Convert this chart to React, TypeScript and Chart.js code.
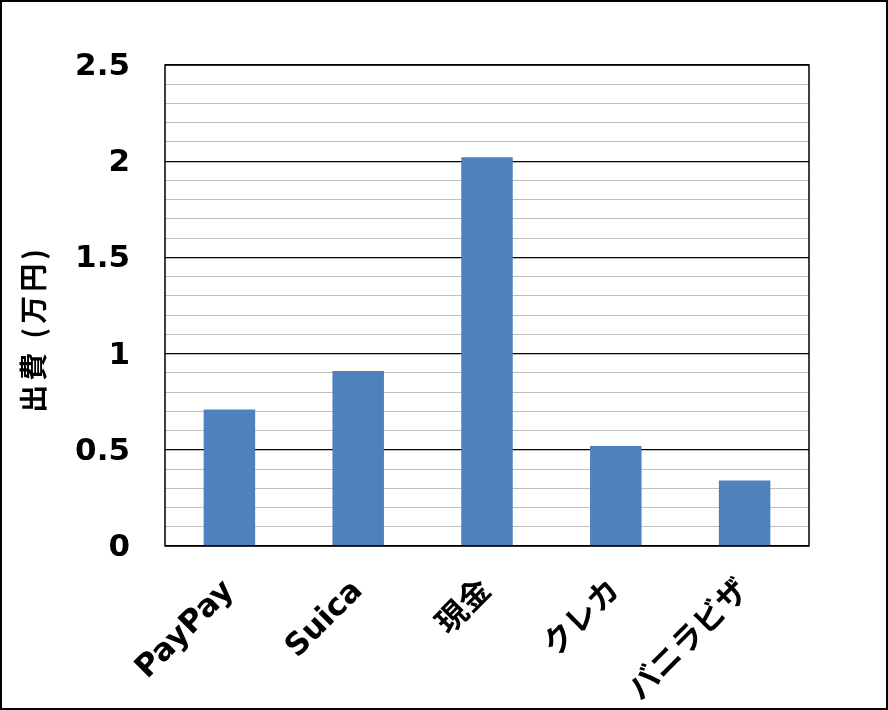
import React, { useEffect, useRef } from "react";
import { Chart, registerables } from "chart.js";

Chart.register(...registerables);

const categories = ["PayPay", "Suica", "現金", "クレカ", "バニラビザ"];
const values = [0.71, 0.91, 2.02, 0.52, 0.34];
const yTitle = "出費 (万円)";
const yMin = 0;
const yMax = 2.5;
const majorStep = 0.5;
const minorStep = 0.1;

const FONT = "'DejaVu Sans', 'Noto Sans CJK JP', sans-serif";

const isMajor = (v: number) => Math.abs(v / majorStep - Math.round(v / majorStep)) < 1e-6;

export default function App() {
  const ref = useRef<HTMLCanvasElement | null>(null);

  useEffect(() => {
    if (!ref.current) return;
    const plotFrame = {
      id: "plotFrame",
      afterDraw(chart: any) {
        const { ctx, chartArea } = chart;
        ctx.save();
        ctx.strokeStyle = "#000";
        ctx.lineWidth = 1.5;
        ctx.strokeRect(chartArea.left, chartArea.top, chartArea.right - chartArea.left, chartArea.bottom - chartArea.top);
        ctx.translate(31, 329);
        ctx.rotate(-Math.PI / 2);
        ctx.fillStyle = "#000";
        ctx.font = "bold 28px 'Noto Sans CJK JP', sans-serif";
        try {
          (ctx as any).letterSpacing = "4px";
        } catch (e) {}
        ctx.textAlign = "center";
        ctx.textBaseline = "middle";
        ctx.fillText(yTitle, 2, 0);
        ctx.restore();
      },
    };
    const chart = new Chart(ref.current, {
      type: "bar",
      data: {
        labels: categories,
        datasets: [
          {
            data: values,
            backgroundColor: "#4F81BD",
            borderWidth: 0,
            barPercentage: 0.4,
            categoryPercentage: 1,
          },
        ],
      },
      options: {
        animation: false,
        responsive: false,
        maintainAspectRatio: false,
        layout: { padding: { top: 63, right: 77, left: 0, bottom: 0 } },
        plugins: { legend: { display: false }, tooltip: { enabled: false } },
        scales: {
          x: {
            grid: { display: false, drawTicks: false },
            border: { display: false },
            ticks: {
              maxRotation: 45,
              minRotation: 45,
              autoSkip: false,
              padding: 27,
              color: "#000",
              font: { family: FONT, size: 31, weight: "bold" },
            },
            afterFit: (s: any) => {
              s.height = 162;
            },
          },
          y: {
            min: yMin,
            max: yMax,
            grid: {
              drawTicks: false,
              color: (c: any) => (c.tick && isMajor(c.tick.value) ? "#000000" : "#BFBFBF"),
              lineWidth: (c: any) => (c.tick && isMajor(c.tick.value) ? 1.2 : 1),
            },
            border: { display: false },
            ticks: {
              stepSize: minorStep,
              autoSkip: false,
              padding: 35,
              labelOffset: 2,
              color: "#000",
              font: { family: FONT, size: 31, weight: "bold" },
              callback: (v: any) => (isMajor(Number(v)) ? String(Math.round(Number(v) * 10) / 10) : ""),
            },
            afterFit: (s: any) => {
              s.width = 163;
            },
          },
        },
      },
      plugins: [plotFrame],
    });
    return () => chart.destroy();
  }, []);

  return (
    <div
      style={{
        position: "absolute",
        left: 0,
        top: 0,
        width: 888,
        height: 710,
        boxSizing: "border-box",
        border: "2px solid #000",
        background: "#fff",
      }}
    >
      <canvas ref={ref} width={884} height={706} style={{ display: "block", width: 884, height: 706 }} />
    </div>
  );
}
